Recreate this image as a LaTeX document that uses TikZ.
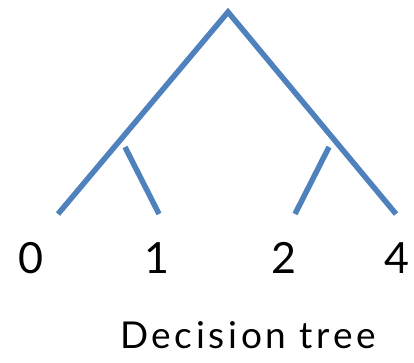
\documentclass[tikz,border=0pt]{standalone}
\usepackage{fontspec}
\setmainfont{Lato}
\usepackage{tikz}
\usetikzlibrary{positioning}
\definecolor{branchblue}{HTML}{4F81BD}
\newcommand{\leaffont}{\fontsize{43}{50}\selectfont}
\newcommand{\titlefont}{\fontsize{37}{44}\selectfont\addfontfeature{LetterSpace=10}}

\begin{document}
\begin{tikzpicture}[
  x=1pt, y=1pt,
  branch/.style={draw=branchblue,line width=5.5pt},
  leaf/.style={font=\leaffont,anchor=base,inner sep=0pt},
  caption/.style={font=\titlefont,anchor=base,inner sep=0pt}
]
\useasboundingbox (0,0) rectangle (414,362);

\coordinate (root) at (228,350);
\coordinate (l0) at (58,148);
\coordinate (l1) at (159,148);
\coordinate (l2) at (295,148);
\coordinate (l4) at (396,148);
\coordinate (b1) at (125,215);
\coordinate (b2) at (329,215);

\draw[branch] (l0) -- (root) -- (l4);
\draw[branch] (b1) -- (l1);
\draw[branch] (b2) -- (l2);

\node[leaf] (n0) at (31,89) {0};
\node[leaf] (n1) at (157,89) {1};
\node[leaf] (n2) at (284,89) {2};
\node[leaf] (n4) at (397,89) {4};

\node[caption] (cap) at (248,14) {Decision tree};
\end{tikzpicture}
\end{document}
